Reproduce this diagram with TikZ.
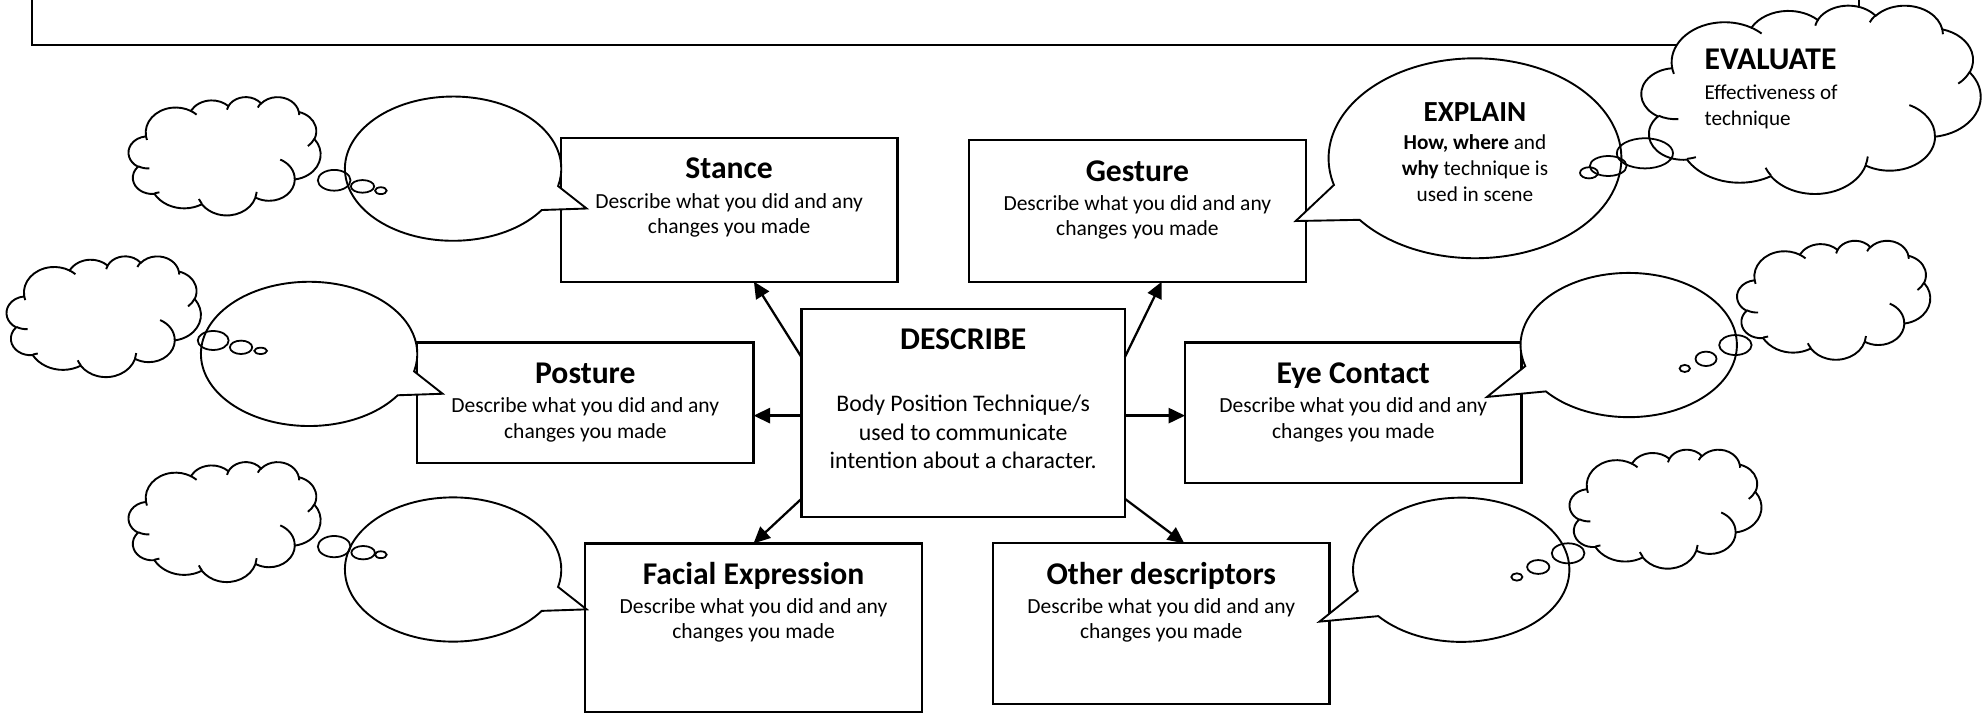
\documentclass[tikz,border=0pt]{standalone}
\usepackage{fontspec}
\setmainfont{Carlito}
\usetikzlibrary{arrows.meta,calc,positioning}

\tikzset{
  techbox/.style={draw, line width=1.8pt, fill=white, outer sep=0pt, inner sep=0pt, minimum width=266},
  boxtitle/.style={anchor=base, inner sep=0pt, font=\fontsize{25}{30}\selectfont\bfseries},
  boxbody/.style={anchor=base, inner sep=0pt, align=center, font=\fontsize{17}{19.8}\selectfont},
  link/.style={line width=1.8pt, -{Triangle[length=13pt,width=12pt]}},
  bubble/.style={draw, line width=1.5pt, fill=white},
  puff/.style={draw, line width=1.4pt},
  cloudline/.style={draw, line width=1.5pt},
  wordcloud/.pic={
    \begin{scope}[yscale=-1, shift={(-216,-216)}]
    \path[cloudline, fill=white] (39.00,143.70)
      arc[start angle=172.25, delta angle=128.11, x radius=67.53, y radius=91.90]
      arc[start angle=-152.02, delta angle=106.57, x radius=53.33, y radius=72.67]
      arc[start angle=-153.49, delta angle=116.16, x radius=43.65, y radius=59.45]
      arc[start angle=-139.71, delta angle=129.50, x radius=48.57, y radius=65.95]
      arc[start angle=-74.77, delta angle=97.98, x radius=53.33, y radius=72.73]
      arc[start angle=-37.53, delta angle=119.39, x radius=67.75, y radius=92.20]
      arc[start angle=0.46, delta angle=121.52, x radius=57.85, y radius=78.67]
      arc[start angle=16.85, delta angle=129.39, x radius=67.52, y radius=92.15]
      arc[start angle=58.99, delta angle=91.19, x radius=77.20, y radius=105.43]
      arc[start angle=-276.70, delta angle=139.80, x radius=43.60, y radius=59.18]
      arc[start angle=120.35, delta angle=143.76, x radius=43.45, y radius=59.45]
      -- cycle;
    % inner strokes
    \draw[cloudline] (46.93,261.77) arc[start angle=85.55, delta angle=34.80, x radius=43.45, y radius=59.45];
    \draw[cloudline] (69.28,348.99) arc[start angle=68.24, delta angle=15.07, x radius=43.60, y radius=59.18];
    \draw[cloudline] (164.78,390.90) arc[start angle=146.24, delta angle=12.24, x radius=67.52, y radius=92.15];
    \draw[cloudline] (288.27,347.51) arc[start angle=4.74, delta angle=12.11, x radius=67.52, y radius=92.15];
    \draw[cloudline] (341.29,229.54) arc[start angle=-64.04, delta angle=64.50, x radius=57.85, y radius=78.67];
    \draw[cloudline] (417.98,153.54) arc[start angle=23.21, delta angle=26.43, x radius=53.33, y radius=72.73];
    \draw[cloudline] (383.24,54.26) arc[start angle=-10.21, delta angle=11.03, x radius=48.57, y radius=65.95];
    \draw[cloudline] (290.78,39.52) arc[start angle=-156.27, delta angle=16.56, x radius=48.57, y radius=65.95];
    \draw[cloudline] (221.41,47.20) arc[start angle=-167.73, delta angle=14.24, x radius=43.65, y radius=59.45];
    \draw[cloudline] (140.00,51.92) arc[start angle=-59.64, delta angle=13.89, x radius=67.53, y radius=91.90];
    \draw[cloudline] (41.27,157.89) arc[start angle=163.19, delta angle=9.06, x radius=67.53, y radius=91.90];
    \end{scope}
  }
}

\begin{document}
\begin{tikzpicture}[x=1pt,y=1pt]
  \useasboundingbox (0,0) rectangle (1568,564);

  \node[draw, line width=1.8pt, anchor=south west, minimum width=1444, minimum height=80, outer sep=0pt] (answerbox) at (25.4,528.4) {};

  \node[techbox, minimum width=255.6, minimum height=164.5] (describe) at (761.2,237.75) {};
  \node[boxtitle] (describe-t) at ([yshift=-32.6]describe.north) {DESCRIBE};
  \node[boxbody, font=\fontsize{18.8}{22.4}\selectfont] (describe-b) at ([yshift=-93.6]describe-t.base) {Body Position Technique/s\\used to communicate\\intention about a character.};

  \foreach \nm/\cx/\cy/\bh/\ttl in {stance/576.25/398.3/113.8/Stance, gesture/898.9/397.4/112/Gesture, posture/462.6/245.75/94.9/Posture, eye/1069.55/237.7/111/Eye Contact, facial/595.55/68/133.1/Facial Expression, other/917.75/71.1/127/Other descriptors} {
    \node[techbox, minimum height=\bh] (\nm) at (\cx,\cy) {};
    \node[boxtitle] (\nm-t) at ([yshift=-32.6]\nm.north) {\ttl};
    \node[boxbody] (\nm-b) at ([yshift=-42.8]\nm-t.base) {Describe what you did and any\\changes you made};
  }

  \draw[link] (describe.161) -- (stance.-71);
  \draw[link] (describe.19) -- (gesture.-71);
  \draw[link] (describe.181) -- (describe.181 -| posture.east);
  \draw[link] (describe.-1) -- (describe.-1 -| eye.west);
  \draw[link] (describe.208) -- (facial.north);
  \draw[link] (describe.-28) -- (other.74);

  % thought clouds
  \coordinate (evalcloud) at (1431.3,485.6);
  \pic[xscale=151.7/432, yscale=93.5/432] (stancecloud) at (177.5,440.8) {wordcloud};
  \pic[xscale=153.5/432, yscale=95.4/432] (posturecloud) at (82,314) {wordcloud};
  \pic[xscale=151.7/432, yscale=94.8/432] (facialcloud) at (177.5,151.7) {wordcloud};
  \pic[xscale=152.6/432, yscale=94/432] (eyecloud) at (1449.2,327) {wordcloud};
  \pic[xscale=151.6/432, yscale=94/432] (othercloud) at (1316.3,161.9) {wordcloud};
  \pic[xscale=268/432, yscale=148.8/432] (evaluate) at (evalcloud) {wordcloud};

  % speech bubbles
  \foreach \bx/\by in {358.1/430.7, 244.3/284.3, 358.1/113.9} {
    \draw[bubble] ($(\bx,\by)+(-14:85.5 and 57)$) -- ($(\bx,\by)+(105.5,-31.5)$)
      -- ($(\bx,\by)+(325:85.5 and 57)$) arc[start angle=325, end angle=-14, x radius=85.5, y radius=57] -- cycle;
  }
  \foreach \bx/\by in {1287.2/291.3, 1154.8/113.7} {
    \draw[bubble] ($(\bx,\by)+(197:85.5 and 57)$) -- ($(\bx,\by)+(-112,-41)$)
      -- ($(\bx,\by)+(220:85.5 and 57)$) arc[start angle=220, end angle=557, x radius=85.5, y radius=57] -- cycle;
  }
  \coordinate (explainbub) at (1165.7,438.9);
  \draw[bubble] ($(explainbub)+(195.5:115.7 and 79)$) -- ($(explainbub)+(-141.7,-49.6)$)
    -- ($(explainbub)+(218:115.7 and 79)$) arc[start angle=218, end angle=555.5, x radius=115.7, y radius=79] -- cycle;

  % small puffs
  \foreach \px/\py/\rx/\ry in {264.1/421.5/12.9/8.2, 286.5/416.7/9.2/5, 301/413.3/4.6/2.7,
    168.5/294.9/12.2/7.5, 190.5/289.5/8.8/5.3, 206/286.7/5/2.5,
    264.1/132/12.9/8.4, 287/127.2/9.3/5.3, 301/125.6/4.6/2.7,
    1300/442.8/22.2/11.9, 1271/432.8/14.5/7.9, 1255.8/427.4/7.1/4.4,
    1371.5/291.3/12.8/7.9, 1348.3/280.4/8.3/5.7, 1331.5/272.8/4.1/2.8,
    1239.3/126.7/12.9/7.9, 1215.7/115.9/8.8/5.5, 1198.8/108/4.4/2.9} {
    \draw[puff] (\px,\py) ellipse[x radius=\rx, y radius=\ry];
  }

  \node[anchor=base, inner sep=0pt, font=\fontsize{23}{28}\selectfont\bfseries] (explain-t) at ([yshift=28.9]explainbub) {EXPLAIN};
  \node[anchor=base, inner sep=0pt, align=center, font=\fontsize{16.8}{20.4}\selectfont] (explain-b) at ([yshift=-63.1]explain-t.base) {\textbf{How, where} and\\\textbf{why} technique is\\used in scene};
  \node[anchor=base west, inner sep=0pt, font=\fontsize{25}{30}\selectfont\bfseries] (evaluate-t) at ([xshift=-84.3,yshift=23.1]evalcloud) {EVALUATE};
  \node[anchor=base west, inner sep=0pt, align=left, font=\fontsize{16.7}{20.3}\selectfont] (evaluate-b) at ([yshift=-43.5]evaluate-t.base west) {Effectiveness of\\technique};
\end{tikzpicture}
\end{document}
